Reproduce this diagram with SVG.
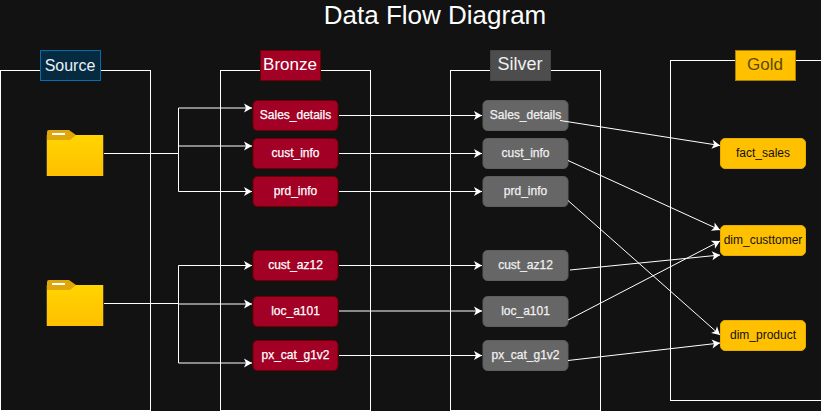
<svg xmlns="http://www.w3.org/2000/svg" width="821" height="411" viewBox="0 0 821 411">
<defs>
<marker id="arr" viewBox="0 0 10 10" refX="9.500" refY="5" markerWidth="10" markerHeight="10" markerUnits="userSpaceOnUse" orient="auto"><path d="M1.500 0.500L9.500 5L1.500 9.500L3.500 5Z" fill="#fff"/></marker>
<linearGradient id="fg" x1="0" y1="0" x2="0" y2="1"><stop offset="0" stop-color="#ffd500"/><stop offset="1" stop-color="#ffbf00"/></linearGradient>
<g id="folder">
<rect x="-1" y="5" width="58" height="41" fill="#4a4020"/>
<rect x="0" y="5" width="56" height="41" fill="url(#fg)"/>
<path d="M0 2Q0 0 2 0H22L29 5L23 10H0Z" fill="#dfa70b"/>
<rect x="5" y="3" width="13" height="2" fill="#fff"/>
</g>
</defs>
<style>
text{font-family:"Liberation Sans",Arial,sans-serif;text-anchor:middle}
.box{fill:none;stroke:#fff;stroke-width:1}
.n{font-size:12px;font-weight:400}
.b rect{fill:#a20025;stroke:#6f0000}
.b text{fill:#fff;stroke:#fff;stroke-width:.25}
.s rect{fill:#666;stroke:#5e5e5e}
.s text{fill:#f0f0f0;stroke:#f0f0f0;stroke-width:.25}
.g rect{fill:#ffc000;stroke:#e6ad00}
.g text{fill:#111}
.c path{fill:none;stroke:#fff;stroke-width:1;marker-end:url(#arr)}
.h{font-size:17px}
</style>
<rect width="821" height="411" fill="#121212"/>
<text id="title" x="435" y="24" font-size="26" fill="#fff">Data Flow Diagram</text>
<g id="source"><rect class="box" x="0.500" y="70.500" width="150" height="340"/><rect x="40.500" y="50.500" width="60" height="30" fill="#062a40" stroke="#006eaf"/><text x="70" y="71" font-size="16" fill="#e8f2f8">Source</text></g>
<g id="bronze"><rect class="box" x="220.500" y="70.500" width="150" height="340"/><rect x="260.500" y="50.500" width="60" height="30" fill="#a20025" stroke="#6f0000"/><text class="h" x="290" y="70" fill="#fff">Bronze</text></g>
<g id="silver"><rect class="box" x="450.500" y="70.500" width="150" height="340"/><rect x="490.500" y="50.500" width="60" height="30" fill="#4d4d4d" stroke="#444"/><text x="520" y="70" font-size="18" fill="#f0f0f0">Silver</text></g>
<g id="gold"><rect class="box" x="670.500" y="60.500" width="170" height="340"/><rect x="735.500" y="50.500" width="60" height="30" fill="#ffc000" stroke="#a87f00"/><text class="h" x="765" y="70" fill="#5c4a00">Gold</text></g>
<g id="folder1"><use href="#folder" x="47" y="130"/></g>
<g id="folder2"><use href="#folder" x="47" y="280"/></g>
<g id="b1" class="b"><rect x="253" y="100.500" width="85" height="30" rx="4.500"/><text class="n" x="295.500" y="119">Sales_details</text></g>
<g id="b2" class="b"><rect x="253" y="138.500" width="85" height="30" rx="4.500"/><text class="n" x="295.500" y="157">cust_info</text></g>
<g id="b3" class="b"><rect x="253" y="176.500" width="85" height="30" rx="4.500"/><text class="n" x="295.500" y="195">prd_info</text></g>
<g id="b4" class="b"><rect x="253" y="250.500" width="85" height="30" rx="4.500"/><text class="n" x="295.500" y="269">cust_az12</text></g>
<g id="b5" class="b"><rect x="253" y="296.500" width="85" height="30" rx="4.500"/><text class="n" x="295.500" y="315">loc_a101</text></g>
<g id="b6" class="b"><rect x="253" y="340.500" width="85" height="30" rx="4.500"/><text class="n" x="295.500" y="359">px_cat_g1v2</text></g>
<g id="s1" class="s"><rect x="483" y="100.500" width="85" height="30" rx="4.500"/><text class="n" x="525.500" y="119">Sales_details</text></g>
<g id="s2" class="s"><rect x="483" y="138.500" width="85" height="30" rx="4.500"/><text class="n" x="525.500" y="157">cust_info</text></g>
<g id="s3" class="s"><rect x="483" y="176.500" width="85" height="30" rx="4.500"/><text class="n" x="525.500" y="195">prd_info</text></g>
<g id="s4" class="s"><rect x="483" y="250.500" width="85" height="30" rx="4.500"/><text class="n" x="525.500" y="269">cust_az12</text></g>
<g id="s5" class="s"><rect x="483" y="296.500" width="85" height="30" rx="4.500"/><text class="n" x="525.500" y="315">loc_a101</text></g>
<g id="s6" class="s"><rect x="483" y="340.500" width="85" height="30" rx="4.500"/><text class="n" x="525.500" y="359">px_cat_g1v2</text></g>
<g id="g1" class="g"><rect x="720.500" y="138.500" width="85" height="30" rx="4.500"/><text class="n" x="763" y="157">fact_sales</text></g>
<g id="g2" class="g"><rect x="720.500" y="225.500" width="85" height="30" rx="4.500"/><text class="n" x="763" y="244">dim_custtomer</text></g>
<g id="g3" class="g"><rect x="720.500" y="320.500" width="85" height="30" rx="4.500"/><text class="n" x="763" y="339">dim_product</text></g>
<g class="c" id="connectors">
<path d="M104 153.500H178.500V108H252"/>
<path d="M104 153.500H178.500V146H252"/>
<path d="M104 153.500H178.500V191.500H252"/>
<path d="M104 303.500H178.500V265.500H252"/>
<path d="M104 303.500H178.500V304H252"/>
<path d="M104 303.500H178.500V363H252"/>
<path d="M339 115.500H482"/>
<path d="M339 153.500H482"/>
<path d="M339 191.500H482"/>
<path d="M339 265.500H482"/>
<path d="M339 311H482"/>
<path d="M339 355.500H482"/>
<path d="M560 120.500L720 145.500"/>
<path d="M568 160.500L720 230"/>
<path d="M568 200.500L720 335"/>
<path d="M570 270L720 255"/>
<path d="M568 320L720 241"/>
<path d="M568 360.500L720 343"/>
</g>
</svg>
